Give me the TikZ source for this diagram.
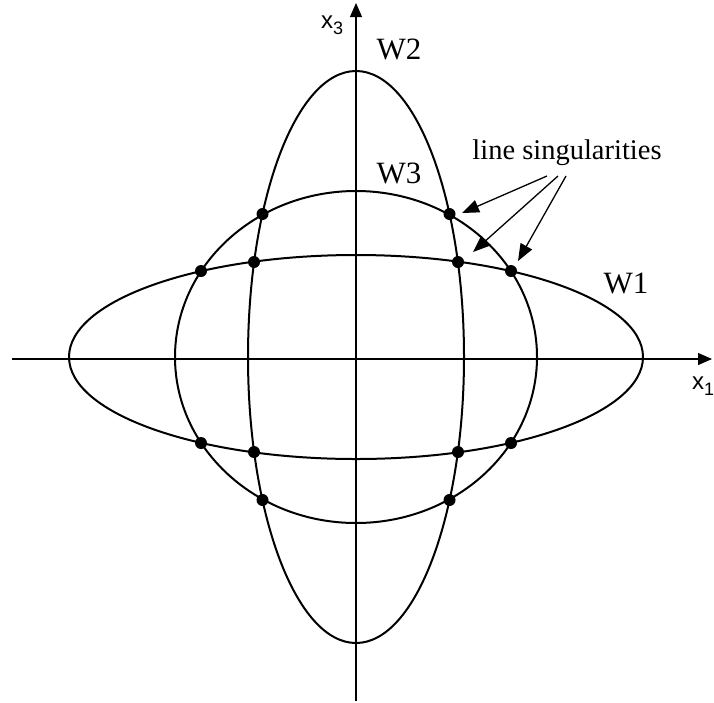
\documentclass[tikz,border=0pt]{standalone}
\usepackage{fontspec}
\setmainfont{Liberation Serif}
\setsansfont{Liberation Sans}
\usetikzlibrary{arrows.meta}
\begin{document}
\begin{tikzpicture}[x=1pt,y=-1pt,
  curve/.style={line width=2pt},
  axis/.style={line width=1.1pt,-{Triangle[length=14pt,width=12pt]}},
  dot/.style={circle,fill=black,inner sep=0pt,minimum size=12pt},
  lbl/.style={font=\fontsize{31}{31}\selectfont,inner sep=0pt},
  axlbl/.style={font=\sffamily\fontsize{24}{24}\selectfont,inner sep=0pt,anchor=base west},
  pointer/.style={line width=1.3pt,-{Triangle[length=17pt,width=13pt]}}]
\useasboundingbox (0,0) rectangle (714,702);
\coordinate (O) at (356,357);
\coordinate (xl) at (12,359);
\coordinate (xr) at (712,359);
\coordinate (yb) at (356,701);
\coordinate (yt) at (356,3);
\draw[axis] (xl) -- (xr);
\draw[axis] (yb) -- (yt);
% ellipses
\draw[curve] (O) ellipse [x radius=287, y radius=102];
\draw[curve] (O) ellipse [x radius=108, y radius=286];
\draw[curve] (O) ellipse [x radius=181, y radius=166];
% intersections
\node[dot] (p1) at (262.5,214) {};
\node[dot] (p2) at (449.5,214) {};
\node[dot] (p3) at (262.5,500) {};
\node[dot] (p4) at (449.5,500) {};
\node[dot] (q1) at (254,262) {};
\node[dot] (q2) at (458,262) {};
\node[dot] (q3) at (254,452) {};
\node[dot] (q4) at (458,452) {};
\node[dot] (r1) at (201,271) {};
\node[dot] (r2) at (511,271) {};
\node[dot] (r3) at (201,443) {};
\node[dot] (r4) at (511,443) {};
% labels
\node[axlbl] (x3) at (321,28) {x\raisebox{-6pt}{\fontsize{18}{18}\selectfont 3}};
\node[axlbl] (x1) at (692,389) {x\raisebox{-6pt}{\fontsize{18}{18}\selectfont 1}};
\node[lbl] (W2) at (399,49) {W2};
\node[lbl] (W3) at (399,173) {W3};
\node[lbl] (W1) at (626,283) {W1};
\node[font=\fontsize{28.5}{28.5}\selectfont,inner sep=0pt] (ls) at (567,153) {line singularities};
\coordinate (s1) at (547,176);
\coordinate (s2) at (558,176);
\coordinate (s3) at (566,176);
\coordinate (t1) at (462,213);
\coordinate (t2) at (473,252);
\coordinate (t3) at (518,261);
\draw[pointer] (s1) -- (t1);
\draw[pointer] (s2) -- (t2);
\draw[pointer] (s3) -- (t3);
\end{tikzpicture}
\end{document}
